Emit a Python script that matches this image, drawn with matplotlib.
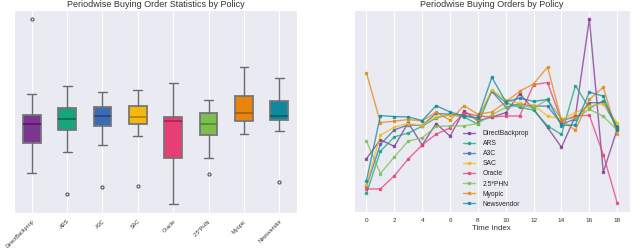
import matplotlib
matplotlib.use('Agg')
import matplotlib.pyplot as plt
import numpy as np
import seaborn as sns

sns.set_style('darkgrid')
plt.rcParams['font.family'] = ['Liberation Sans', 'DejaVu Sans']

policies = ['DirectBackprop', 'ARS', 'A3C', 'SAC', 'Oracle', '2.5*PHN', 'Myopic', 'Newsvendor']
colors = ['#7d3592', '#14a67c', '#3b6bb5', '#f5b80c', '#e83e73', '#7cbd50', '#e8850e', '#0c8a9c']
dark_colors = ['#4e1e5c', '#0b6a4e', '#234580', '#b07f00', '#a82350', '#4f8a2c', '#a85a05', '#075a66']

time_index = list(range(19))

# buying orders per period (units)
direct_backprop = [53.3, 72.3, 65.7, 89.5, 67, 88.7, 76, 101.3, 91.3, 95.3, 99.7, 118.7, 103, 84.7, 64.7, 96.3, 194, 39.7, 83]
ars = [18.3, 60.7, 75.3, 79, 86, 94.3, 97.7, 95.3, 88, 122, 109.7, 105, 102.3, 86.3, 77.7, 127, 104, 111.7, 86.3]
a3c = [25.5, 67.7, 82.3, 87.3, 86.7, 99, 98, 97, 93.7, 121.3, 105.3, 108.7, 106.3, 106.3, 88.3, 93, 109.7, 109.7, 84.7]
sac = [26.3, 77, 85, 88.7, 86.7, 95.7, 97, 97.3, 93, 122.7, 112.3, 109, 107.3, 96.3, 93, 99.7, 106.3, 108.7, 89.7]
oracle = [22.7, 22.7, 36, 53, 67, 78, 84.3, 99.7, 96.3, 95.3, 96.3, 96.3, 128, 130, 91.3, 96.3, 97, 57.3, 8.7]
phn = [71, 38.3, 55, 71, 74.3, 85.7, 86.3, 86.3, 88.7, 97.5, 105, 107, 104.7, 112.7, 93, 94, 103, 96, 82]
myopic = [139.7, 89.7, 91, 92.7, 91.3, 100.3, 92, 106.7, 98, 100.3, 110.3, 121.3, 128.7, 145.7, 92, 82, 113, 125.3, 78.3]
newsvendor = [31, 96.7, 95.7, 95.3, 91.7, 106.7, 100.3, 96.3, 94.3, 135.3, 110.7, 114.3, 111, 113, 86.7, 87.3, 120.3, 116.3, 82]

series = [direct_backprop, ars, a3c, sac, oracle, phn, myopic, newsvendor]

fig = plt.figure(figsize=(6.4, 2.48), dpi=100)
ax1 = fig.add_axes([0.022, 0.141, 0.442, 0.819])
ax2 = fig.add_axes([0.553, 0.145, 0.431, 0.815])

# box plot
bp = ax1.boxplot(series, positions=range(len(policies)), widths=0.5, patch_artist=True,
                 flierprops=dict(marker='o', markersize=2.2, markerfacecolor='none',
                                 markeredgecolor='#555555', markeredgewidth=0.8),
                 whiskerprops=dict(color='#6a6a6a', linewidth=1.0),
                 capprops=dict(color='#6a6a6a', linewidth=1.0),
                 boxprops=dict(edgecolor='#777777', linewidth=1.3))
for patch, c in zip(bp['boxes'], colors):
    patch.set_facecolor(c)
for med, c in zip(bp['medians'], dark_colors):
    med.set_color(c)
    med.set_linewidth(1.2)
ax1.set_xticks(range(len(policies)))
ax1.set_xticklabels(policies, rotation=45, ha='right', rotation_mode='anchor', fontsize=4.0)
ax1.set_xlim(-0.5, len(policies) - 0.5)
ax1.set_yticks([])
ax1.set_title('Periodwise Buying Order Statistics by Policy', fontsize=6.5, pad=2, color='#333333')
ax1.tick_params(axis='x', pad=0.5, colors='#333333')

# line plot
for s, c, name in zip(series, colors, policies):
    ax2.plot(time_index, s, marker='s', markersize=2, linewidth=1, color=c, alpha=0.75, label=name)
ax2.set_xticks(range(0, 19, 2))
ax2.tick_params(axis='x', labelsize=4.6, pad=1, colors='#333333')
ax2.set_yticks([])
ax2.set_xlabel('Time Index', fontsize=5.7, labelpad=1, color='#333333')
ax2.set_title('Periodwise Buying Orders by Policy', fontsize=6.5, pad=2, color='#333333')
ax2.legend(loc='lower left', bbox_to_anchor=(0.394, 0.022), frameon=False, fontsize=4.85,
           handlelength=1.8, handletextpad=1.2, labelspacing=0.45, borderpad=0, borderaxespad=0)

fig.savefig('out.png', dpi=100)
